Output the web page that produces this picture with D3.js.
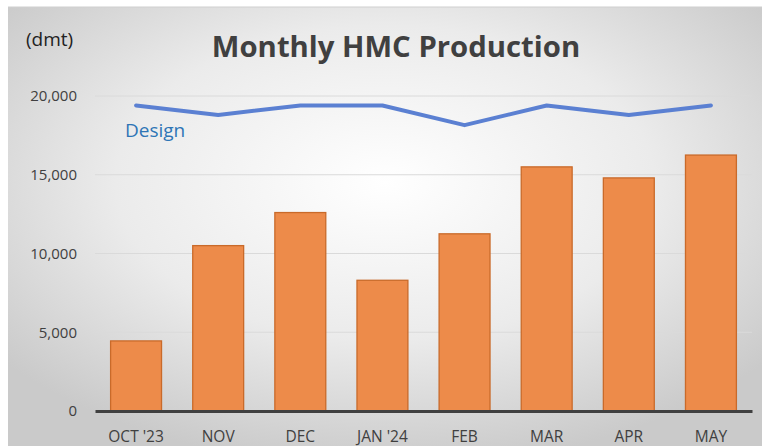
<!DOCTYPE html>
<html>
<head>
<meta charset="utf-8">
<script src="https://cdn.jsdelivr.net/npm/d3@7"></script>
<style>
  body { margin: 0; background: #fff; }
  text { font-family: "Open Sans", "Noto Sans", sans-serif; }
</style>
</head>
<body>
<svg id="chart" width="762" height="446"></svg>
<script>
// chart data
const months = ["OCT '23", "NOV", "DEC", "JAN '24", "FEB", "MAR", "APR", "MAY"];
const production = [4450, 10500, 12600, 8300, 11250, 15500, 14800, 16250];
const design = [19400, 18800, 19400, 19400, 18150, 19400, 18800, 19400];
const yTicks = [0, 5000, 10000, 15000, 20000];

const width = 762, height = 446;
const margin = { top: 96, right: 10, bottom: 35, left: 95 };

let svg = d3.select("#chart");

// background gradient, lighter in the middle
let defs = svg.append("defs");
let grad = defs.append("radialGradient")
    .attr("id", "bg")
    .attr("cx", "50%").attr("cy", "40%").attr("r", "65%");
grad.append("stop").attr("offset", "0%").attr("stop-color", "#ffffff");
grad.append("stop").attr("offset", "55%").attr("stop-color", "#ebebeb");
grad.append("stop").attr("offset", "100%").attr("stop-color", "#cacaca");

svg.append("rect")
    .attr("x", 8).attr("y", 7)
    .attr("width", width - 8).attr("height", height - 7)
    .attr("fill", "url(#bg)");
svg.append("line")
    .attr("x1", 8).attr("x2", width).attr("y1", 7).attr("y2", 7)
    .attr("stroke", "#cfcfcf");

let x = d3.scaleBand()
    .domain(months)
    .range([margin.left, 752])
    .paddingInner(0.38)
    .paddingOuter(0.19);

let y = d3.scaleLinear()
    .domain([0, 20000])
    .range([411, margin.top]);

// gridlines
svg.append("g")
    .selectAll("line")
    .data(yTicks.slice(1))
    .join("line")
    .attr("x1", margin.left).attr("x2", 752)
    .attr("y1", d => y(d)).attr("y2", d => y(d))
    .attr("stroke", "#dadada")
    .attr("stroke-width", 1);

// y axis labels
let yAxis = d3.axisLeft(y)
    .tickValues(yTicks)
    .tickFormat(d3.format(","))
    .tickSize(0)
    .tickPadding(0);
let yg = svg.append("g")
    .attr("transform", "translate(77,0)")
    .call(yAxis);
yg.select(".domain").remove();
yg.selectAll("text")
    .attr("fill", "#404040")
    .style("font-size", "15px");

// bars
svg.append("g")
    .selectAll("rect")
    .data(production)
    .join("rect")
    .attr("x", (d, i) => x(months[i]))
    .attr("y", d => y(d))
    .attr("width", x.bandwidth())
    .attr("height", d => y(0) - y(d))
    .attr("fill", "#ed8b4a")
    .attr("stroke", "#c96a2a")
    .attr("stroke-width", 1.3);

// x axis
let xAxis = d3.axisBottom(x).tickSize(0).tickPadding(20);
let xg = svg.append("g")
    .attr("transform", "translate(0," + y(0) + ")")
    .call(xAxis);
xg.select(".domain")
    .attr("stroke", "#404040")
    .attr("stroke-width", 3);
xg.selectAll("text")
    .attr("fill", "#404040")
    .style("font-size", "15.5px");

// design line
let line = d3.line()
    .x((d, i) => x(months[i]) + x.bandwidth() / 2)
    .y(d => y(d));
svg.append("path")
    .datum(design)
    .attr("d", line)
    .attr("fill", "none")
    .attr("stroke", "#5b80d2")
    .attr("stroke-width", 4)
    .attr("stroke-linecap", "round")
    .attr("stroke-linejoin", "round");

svg.append("text")
    .attr("x", 125).attr("y", 137)
    .attr("fill", "#2e75b6")
    .style("font-size", "19px")
    .text("Design");

// title and unit
svg.append("text")
    .attr("x", 396).attr("y", 57)
    .attr("text-anchor", "middle")
    .attr("fill", "#404040")
    .style("font-size", "29.3px")
    .style("font-weight", "bold")
    .text("Monthly HMC Production");

svg.append("text")
    .attr("x", 26).attr("y", 46)
    .attr("fill", "#222")
    .style("font-size", "19px")
    .text("(dmt)");
</script>
</body>
</html>
